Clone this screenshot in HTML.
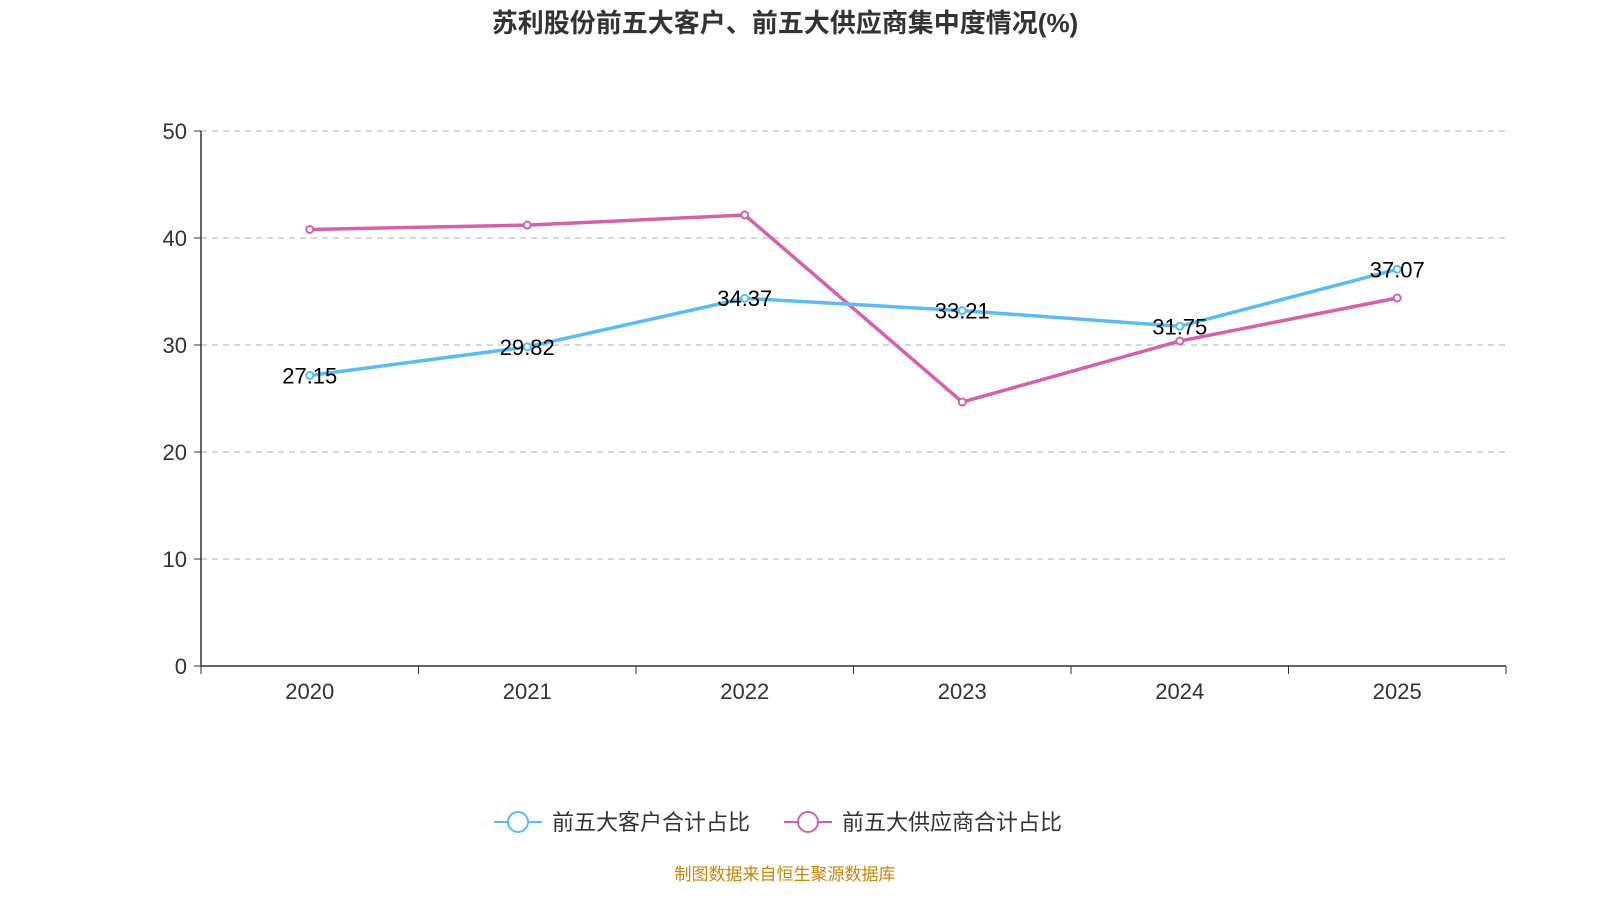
<!DOCTYPE html>
<html><head><meta charset="utf-8"><style>
body{margin:0;background:#fff;}
svg text{font-family:"Liberation Sans","Noto Sans CJK SC",sans-serif;}
</style></head><body>
<svg width="1600" height="900" xmlns="http://www.w3.org/2000/svg">
<text x="785" y="32" text-anchor="middle" font-size="26" font-weight="bold" fill="#333">苏利股份前五大客户、前五大供应商集中度情况(%)</text>
<g id="grid"></g><g id="axes"></g><g id="series"></g>
<g>
<g>
<line x1="494" y1="822" x2="542" y2="822" stroke="#5bbcf5" stroke-width="2"/>
<circle cx="518" cy="822" r="10" fill="#fff" stroke="#5bbcf5" stroke-width="2"/>
<text x="552" y="830" font-size="22" fill="#333">前五大客户合计占比</text></g>
<g>
<line x1="784" y1="822" x2="832" y2="822" stroke="#d462a8" stroke-width="2"/>
<circle cx="808" cy="822" r="10" fill="#fff" stroke="#d462a8" stroke-width="2"/>
<text x="842" y="830" font-size="22" fill="#333">前五大供应商合计占比</text></g>
</g>
<text x="785" y="880" text-anchor="middle" font-size="17" fill="#c8860c">制图数据来自恒生聚源数据库</text>
</svg>
<script>
const categories=["2020","2021","2022","2023","2024","2025"];
const customers=[27.15,29.82,34.37,33.21,31.75,37.07];
const suppliers=[40.8,41.2,42.15,24.67,30.37,34.39];
const yTicks=[0,10,20,30,40,50];
const NS="http://www.w3.org/2000/svg";
const L=201,R=1506,T=131,B=666,ymax=50;
const step=(R-L)/categories.length;
const x=i=>L+step*(i+0.5);
const y=v=>B-(v/ymax)*(B-T);
function mk(t,a,p){const e=document.createElementNS(NS,t);for(const k in a)e.setAttribute(k,a[k]);p.appendChild(e);return e;}
const grid=document.getElementById('grid'),axes=document.getElementById('axes'),ser=document.getElementById('series');
yTicks.forEach(v=>{
 if(v>0){const g=mk('line',{x1:L,x2:R,y1:y(v),y2:y(v),stroke:'#ccc','stroke-dasharray':'6,5','stroke-width':1.5},grid);
 
 }
 mk('line',{x1:L-7,x2:L,y1:y(v),y2:y(v),stroke:'#333'},axes);
 const t=mk('text',{x:L-14,y:y(v)+8,'text-anchor':'end','font-size':22,fill:'#333'},axes);t.textContent=v;
 
 
});
mk('line',{x1:L,x2:L,y1:T,y2:B,stroke:'#333','stroke-width':1.5},axes);
mk('line',{x1:L,x2:R,y1:B,y2:B,stroke:'#333','stroke-width':1.5},axes);
for(let i=0;i<=categories.length;i++)mk('line',{x1:L+step*i,x2:L+step*i,y1:B,y2:B+8,stroke:'#333'},axes);
categories.forEach((c,i)=>{const t=mk('text',{x:x(i),y:B+33,'text-anchor':'middle','font-size':22,fill:'#333'},axes);t.textContent=c;
 
 });
function draw(vals,color,name,labels){
 const p=mk('polyline',{points:vals.map((v,i)=>x(i)+','+y(v)).join(' '),fill:'none',stroke:color,'stroke-width':3.5},ser);
 
 
 vals.forEach((v,i)=>{const c=mk('circle',{cx:x(i),cy:y(v),r:3.5,fill:'#fff',stroke:color,'stroke-width':2},ser);
  
  
  if(labels){const t=mk('text',{x:x(i),y:y(v)+8,'text-anchor':'middle','font-size':22,fill:'#000'},ser);t.textContent=v.toFixed(2);
  
  }});
}
draw(suppliers,'#d462a8','suppliers',false);
draw(customers,'#5bbcf5','customers',true);
</script>
</body></html>
